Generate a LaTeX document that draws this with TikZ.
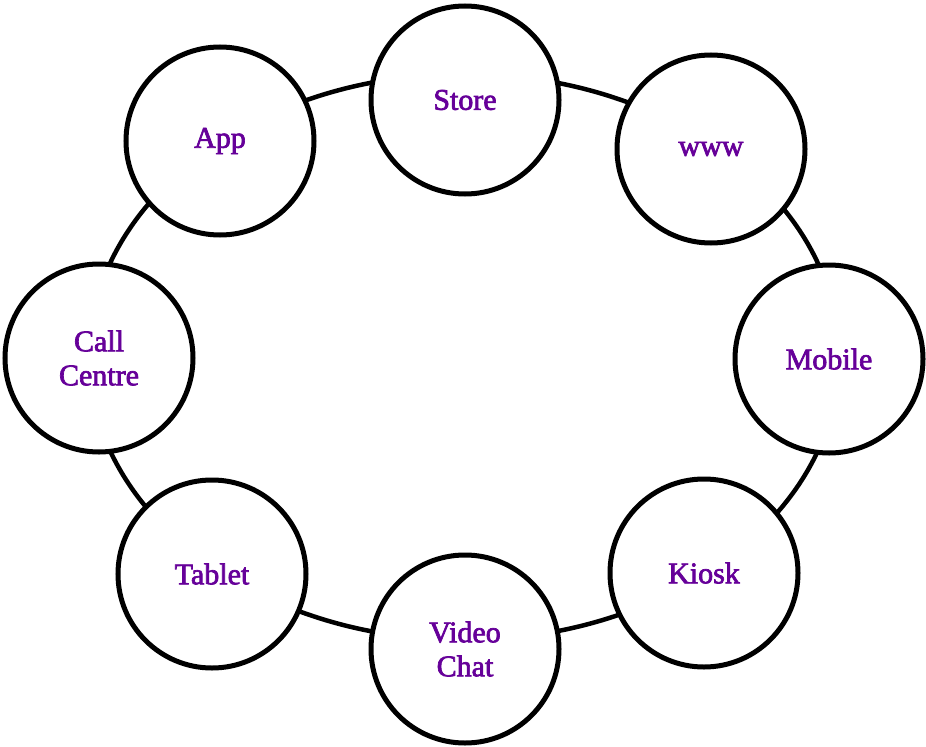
\documentclass[tikz,border=0pt]{standalone}
\usepackage{fontspec}
\setmainfont{Liberation Serif}
\definecolor{labelpurple}{RGB}{102,0,153}
% fill and outline the glyphs so the labels come out a little heavier
\newcommand\heavytext[1]{\special{pdf:literal 2 Tr 0.7 w}#1\special{pdf:literal 0 Tr}}
\tikzset{
  ring/.style={line width=4.5bp, black},
  hub/.style={circle, draw=black, line width=5bp, fill=white,
    minimum size=188bp, inner sep=0pt, align=center,
    text=labelpurple, font=\fontsize{30bp}{34bp}\selectfont},
}
\begin{document}
\begin{tikzpicture}[x=1bp, y=-1bp]
  \useasboundingbox (0,0) rectangle (926,747);
  % the ring that links every channel
  \draw[ring] (464,357) ellipse [x radius=375, y radius=283];
  % channel circles
  \node[hub] (store)  at (465,100) {\heavytext{Store}};
  \node[hub] (www)    at (711,149) {\heavytext{www}};
  \node[hub] (mobile) at (829,359) {\heavytext{Mobile}};
  \node[hub] (kiosk)  at (704,573) {\heavytext{Kiosk}};
  \node[hub] (video)  at (465,649) {\heavytext{Video}\\\heavytext{Chat}};
  \node[hub] (tablet) at (212,574) {\heavytext{Tablet}};
  \node[hub] (call)   at (99,358)  {\heavytext{Call}\\\heavytext{Centre}};
  \node[hub] (app)    at (220,141) {\heavytext{App}};
\end{tikzpicture}
\end{document}
